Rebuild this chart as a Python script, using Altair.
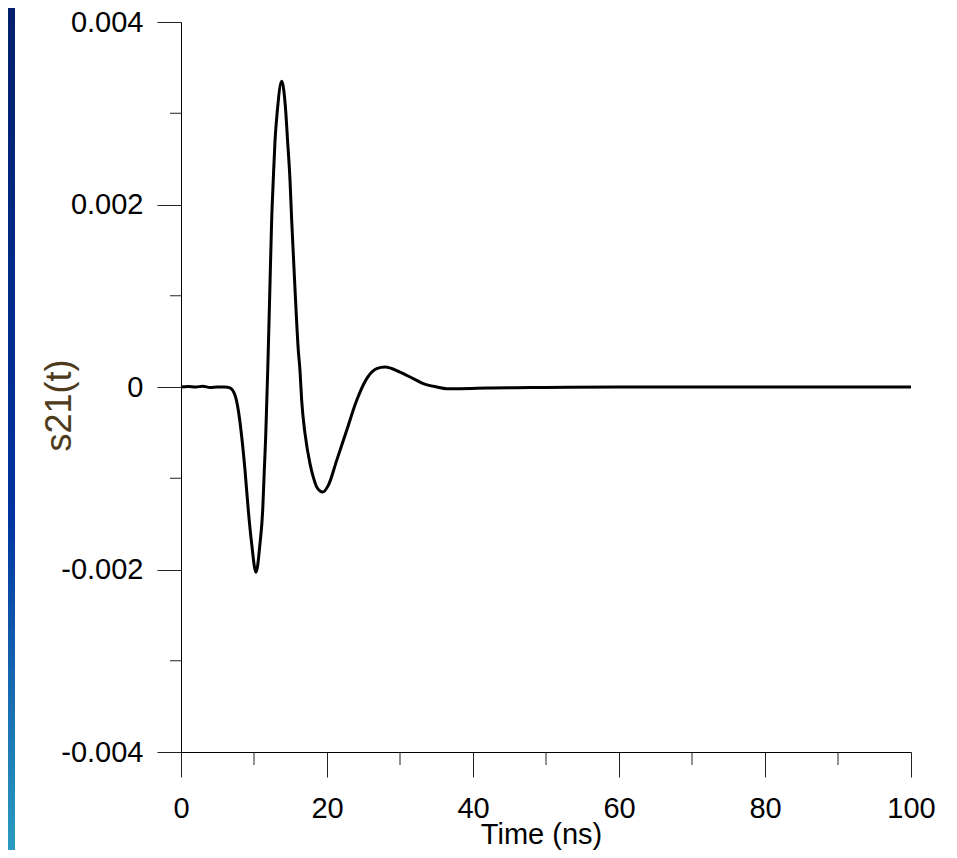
import altair as alt
import pandas as pd

# ---- data ----
time_ns = [0, 1, 2, 3, 4, 5, 6, 6.7, 7.4, 7.85, 8.32, 8.77, 9.22, 9.68, 10.27,
           10.82, 11.19, 11.41, 11.6, 11.74, 11.88, 12.15, 12.42, 12.64, 12.88,
           13.2, 13.79, 14.34, 14.6, 14.93, 15.16, 15.6, 16.07, 16.3, 16.53,
           16.99, 17.67, 18.12, 18.59, 19.41, 20.18, 21.33, 22.7, 24.07, 25.44,
           26.81, 27.95, 30.0, 31.82, 33.19, 35.03, 36.4, 38.2, 42, 46, 50, 60,
           70, 80, 90, 100]
s21_e3 = [0, 0.005, 0.0, 0.008, -0.005, 0.0, 0.0, -0.01, -0.091, -0.255,
          -0.548, -0.913, -1.352, -1.717, -2.03, -1.717, -1.352, -0.913,
          -0.548, -0.182, 0.183, 1.0, 1.83, 2.27, 2.70, 3.03, 3.35, 3.03,
          2.70, 2.27, 1.83, 1.1, 0.40, 0.18, -0.146, -0.511, -0.84, -0.987,
          -1.096, -1.151, -1.078, -0.804, -0.475, -0.146, 0.092, 0.202, 0.219,
          0.164, 0.092, 0.037, 0.0, -0.018, -0.018, -0.012, -0.008, -0.005,
          0, 0, 0, 0, 0]
s21 = [v * 1e-3 for v in s21_e3]

x_major = [0, 20, 40, 60, 80, 100]
x_minor = [10, 30, 50, 70, 90]
y_major = [-0.004, -0.002, 0, 0.002, 0.004]
y_minor = [-0.003, -0.001, 0.001, 0.003]

FONT = "Liberation Sans"
W, H = 730, 730

df = pd.DataFrame({"t": time_ns, "s21": s21})
xscale = alt.Scale(domain=[0, 100], nice=False, zero=False)
yscale = alt.Scale(domain=[-0.004, 0.004], nice=False, zero=False)

xaxis = alt.Axis(
    values=x_major, format="d", tickSize=25, labelPadding=17,
    labelFontSize=29, labelFont=FONT, labelColor="black",
    title="Time (ns)", titleFontSize=29, titleFont=FONT,
    titleFontWeight="normal", titleColor="black",
    titleBaseline="top", titleY=68, titleX=360, titleAlign="center",
    domainColor="black", tickColor="#222", grid=False,
    labelFlush=False, labelOverlap=False)
yaxis = alt.Axis(
    values=y_major, tickSize=24, labelPadding=14,
    labelExpr="datum.value < 0 ? '-' + format(-datum.value, '') : format(datum.value, '')",
    labelFontSize=29, labelFont=FONT, labelColor="black",
    title="s21(t)", titleFontSize=36, titleFont=FONT,
    titleFontWeight="normal", titleColor="#4d3b1c",
    titleAngle=270, titleBaseline="middle", titleAlign="center",
    titleX=-122, titleY=383,
    domainColor="black", tickColor="#222", grid=False,
    labelFlush=False, labelOverlap=False)

line = alt.Chart(df).mark_line(
    color="black", strokeWidth=3, interpolate="monotone", strokeJoin="round"
).encode(
    x=alt.X("t:Q", scale=xscale, axis=xaxis),
    y=alt.Y("s21:Q", scale=yscale, axis=yaxis),
)

ymin = alt.Chart(pd.DataFrame({"s21": y_minor})).mark_rule(
    color="#222", strokeWidth=1
).encode(
    y=alt.Y("s21:Q", scale=yscale, axis=yaxis),
    x=alt.value(-11), x2=alt.value(0),
)

xmin = alt.Chart(pd.DataFrame({"t": x_minor})).mark_rule(
    color="#222", strokeWidth=1
).encode(
    x=alt.X("t:Q", scale=xscale, axis=xaxis),
    y=alt.value(H), y2=alt.value(H + 13),
)

strip = alt.Chart(pd.DataFrame({"a": [0]})).mark_rect(
    color=alt.LinearGradient(
        gradient="linear", x1=0, x2=0, y1=0, y2=1,
        stops=[alt.GradientStop(color="#04206c", offset=0),
               alt.GradientStop(color="#0033a0", offset=0.6),
               alt.GradientStop(color="#2a9bbf", offset=1)])
).encode(
    x=alt.value(-173), x2=alt.value(-166),
    y=alt.value(-14), y2=alt.value(828),
)

chart = alt.layer(line, ymin, xmin, strip).properties(
    width=W, height=H,
    autosize=alt.AutoSizeParams(type="none"),
    padding={"left": 173, "top": 14, "right": 30, "bottom": 98},
    background="white",
).configure_view(stroke=None)

chart.save("out.html", embed_options={"renderer": "svg", "actions": False})
